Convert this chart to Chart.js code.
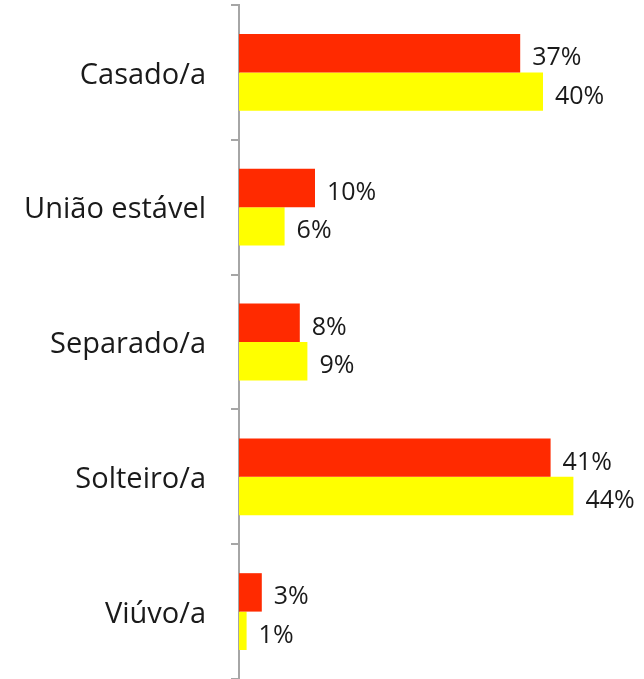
<!DOCTYPE html>
<html lang="pt">
<head>
    <meta charset="UTF-8">
    <title>Estado civil</title>
    <script src="https://cdn.jsdelivr.net/npm/chart.js"></script>
    <style>
        html, body { margin: 0; padding: 0; background: #fff; }
        #wrap { width: 644px; height: 679px; position: relative; }
    </style>
</head>
<body>
    <div id="wrap"><canvas id="chart"></canvas></div>

    <script>
        // categorias e valores (%)
        const categorias = ['Casado/a', 'União estável', 'Separado/a', 'Solteiro/a', 'Viúvo/a'];
        const serieVermelha = [37, 10, 8, 41, 3];
        const serieAmarela = [40, 6, 9, 44, 1];

        const fonte = '"Open Sans", sans-serif';

        // escreve o valor ao lado de cada barra
        const rotulos = {
            id: 'rotulos',
            afterDatasetsDraw(chart) {
                const ctx = chart.ctx;
                ctx.save();
                ctx.font = '25px ' + fonte;
                ctx.fillStyle = '#1a1a1a';
                ctx.textAlign = 'left';
                ctx.textBaseline = 'alphabetic';
                chart.data.datasets.forEach((ds, i) => {
                    chart.getDatasetMeta(i).data.forEach((bar, j) => {
                        ctx.fillText(ds.data[j] + '%', bar.x + 12, bar.y + 12);
                    });
                });
                ctx.restore();
            }
        };

        new Chart(document.getElementById('chart'), {
            type: 'bar',
            data: {
                labels: categorias,
                datasets: [
                    { label: 'Série 1', data: serieVermelha, backgroundColor: '#FF2A00' },
                    { label: 'Série 2', data: serieAmarela, backgroundColor: '#FFFF00' }
                ]
            },
            options: {
                indexAxis: 'y',
                responsive: true,
                maintainAspectRatio: false,
                animation: false,
                layout: { padding: { top: 5, right: 25, bottom: 0, left: 0 } },
                datasets: {
                    bar: { categoryPercentage: 0.57, barPercentage: 1.0 }
                },
                plugins: {
                    legend: { display: false },
                    tooltip: { enabled: false }
                },
                scales: {
                    x: { display: false, min: 0, max: 50 },
                    y: {
                        afterFit(scale) {
                            scale.width = 239;
                            scale.paddingTop = 0;
                            scale.paddingBottom = 0;
                        },
                        grid: {
                            offset: true,
                            drawOnChartArea: false,
                            tickLength: 8,
                            color: '#a6a6a6',
                            lineWidth: 2
                        },
                        border: { display: true, color: '#a6a6a6', width: 2 },
                        ticks: {
                            padding: 25,
                            labelOffset: 3,
                            color: '#1a1a1a',
                            font: { family: fonte, size: 29 }
                        }
                    }
                }
            },
            plugins: [rotulos]
        });
    </script>
</body>
</html>
